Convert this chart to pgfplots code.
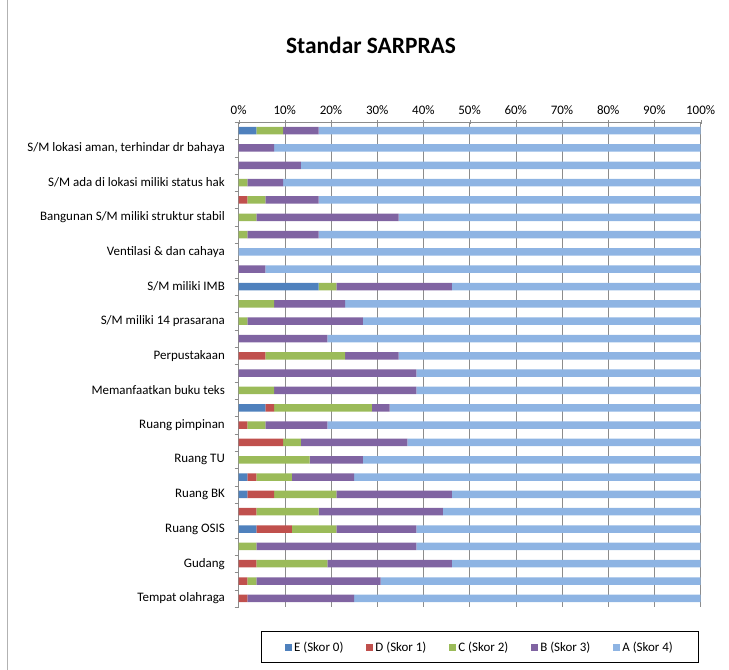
\documentclass[border=0pt]{standalone}
\usepackage{pgfplots}
\pgfplotsset{compat=1.18}
\usepackage{pgfplotstable}
\usepackage{fontspec}
\setmainfont{Carlito}
\definecolor{cE}{HTML}{4F81BD}
\definecolor{cD}{HTML}{C0504D}
\definecolor{cC}{HTML}{9BBB59}
\definecolor{cB}{HTML}{8064A2}
\definecolor{cA}{HTML}{8EB4E3}
\definecolor{gridc}{HTML}{8C8C8C}
\pgfplotstableread{
y E D C B A
1 0 1.92 0 23.08 75.00
2 0 1.92 1.92 26.92 69.23
3 0 3.85 15.38 26.92 53.85
4 0 0 3.85 34.62 61.54
5 3.85 7.69 9.62 17.31 61.54
6 0 3.85 13.46 26.92 55.77
7 1.92 5.77 13.46 25.00 53.85
8 1.92 1.92 7.69 13.46 75.00
9 0 0 15.38 11.54 73.08
10 0 9.62 3.85 23.08 63.46
11 0 1.92 3.85 13.46 80.77
12 5.77 1.92 21.15 3.85 67.31
13 0 0 7.69 30.77 61.54
14 0 0 0 38.46 61.54
15 0 5.77 17.31 11.54 65.38
16 0 0 0 19.23 80.77
17 0 0 1.92 25.00 73.08
18 0 0 7.69 15.38 76.92
19 17.31 0 3.85 25.00 53.85
20 0 0 0 5.77 94.23
21 0 0 0 0 100
22 0 0 1.92 15.38 82.69
23 0 0 3.85 30.77 65.38
24 0 1.92 3.85 11.54 82.69
25 0 0 1.92 7.69 90.38
26 0 0 0 13.46 86.54
27 0 0 0 7.69 92.31
28 3.85 0 5.77 7.69 82.69
}\data
\begin{document}
\begin{tikzpicture}[x=1bp,y=1bp]
\useasboundingbox (0,0) rectangle (729,670);
\draw[gray!60, line width=1bp] (7,-5) -- (7,675);
\node[font=\fontsize{23.5}{26}\selectfont\bfseries] at (371,625) {Standar SARPRAS};
\begin{axis}[
  at={(238.6bp,63bp)}, anchor=south west,
  scale only axis, width=462bp, height=485bp,
  xbar stacked, bar width=7.5bp,
  xmin=0, xmax=100, ymin=0.5, ymax=28.5,
  axis x line*=top, axis y line*=left,
  axis line style={gridc},
  xtick={0,10,...,100},
  xticklabels={0\%,10\%,20\%,30\%,40\%,50\%,60\%,70\%,80\%,90\%,100\%},
  xticklabel pos=top,
  xmajorgrids, major grid style={gridc, line width=0.6bp},
  x tick style={gridc}, xtick align=center, major x tick style={gridc},
  ytick={1,3,...,27},
  yticklabels={Tempat olahraga, Gudang, Ruang OSIS, Ruang BK, Ruang TU, Ruang pimpinan, Memanfaatkan buku teks, Perpustakaan, S/M miliki 14 prasarana, S/M miliki IMB, Ventilasi \& dan cahaya, Bangunan S/M miliki struktur stabil, S/M ada di lokasi miliki status hak, {S/M lokasi aman, terhindar dr bahaya}},
  major y tick style={draw=none},
  minor ytick={0.5,1.5,...,28.5},
  minor y tick style={gridc}, ytick align=outside,
  minor tick length=4bp,
  yminorgrids=false,
  ticklabel style={font=\fontsize{13}{15}\selectfont},
  yticklabel style={xshift=-6bp},
  xticklabel style={yshift=2bp},
  legend columns=5,
  legend style={at={(0.5225,-0.0825)}, anchor=center, draw=black, line width=0.8bp,
    font=\fontsize{13}{15}\selectfont, inner xsep=24bp, inner ysep=8bp,
    /tikz/every even column/.append style={column sep=21bp}},
  legend image code/.code={\fill[#1] (0bp,-3.5bp) rectangle (7bp,3.5bp);},
]
\addplot[fill=cE, draw=none] table[x=E, y=y] {\data};
\addplot[fill=cD, draw=none] table[x=D, y=y] {\data};
\addplot[fill=cC, draw=none] table[x=C, y=y] {\data};
\addplot[fill=cB, draw=none] table[x=B, y=y] {\data};
\addplot[fill=cA, draw=none] table[x=A, y=y] {\data};
\legend{E (Skor 0), D (Skor 1), C (Skor 2), B (Skor 3), A (Skor 4)}
\end{axis}
\end{tikzpicture}
\end{document}
